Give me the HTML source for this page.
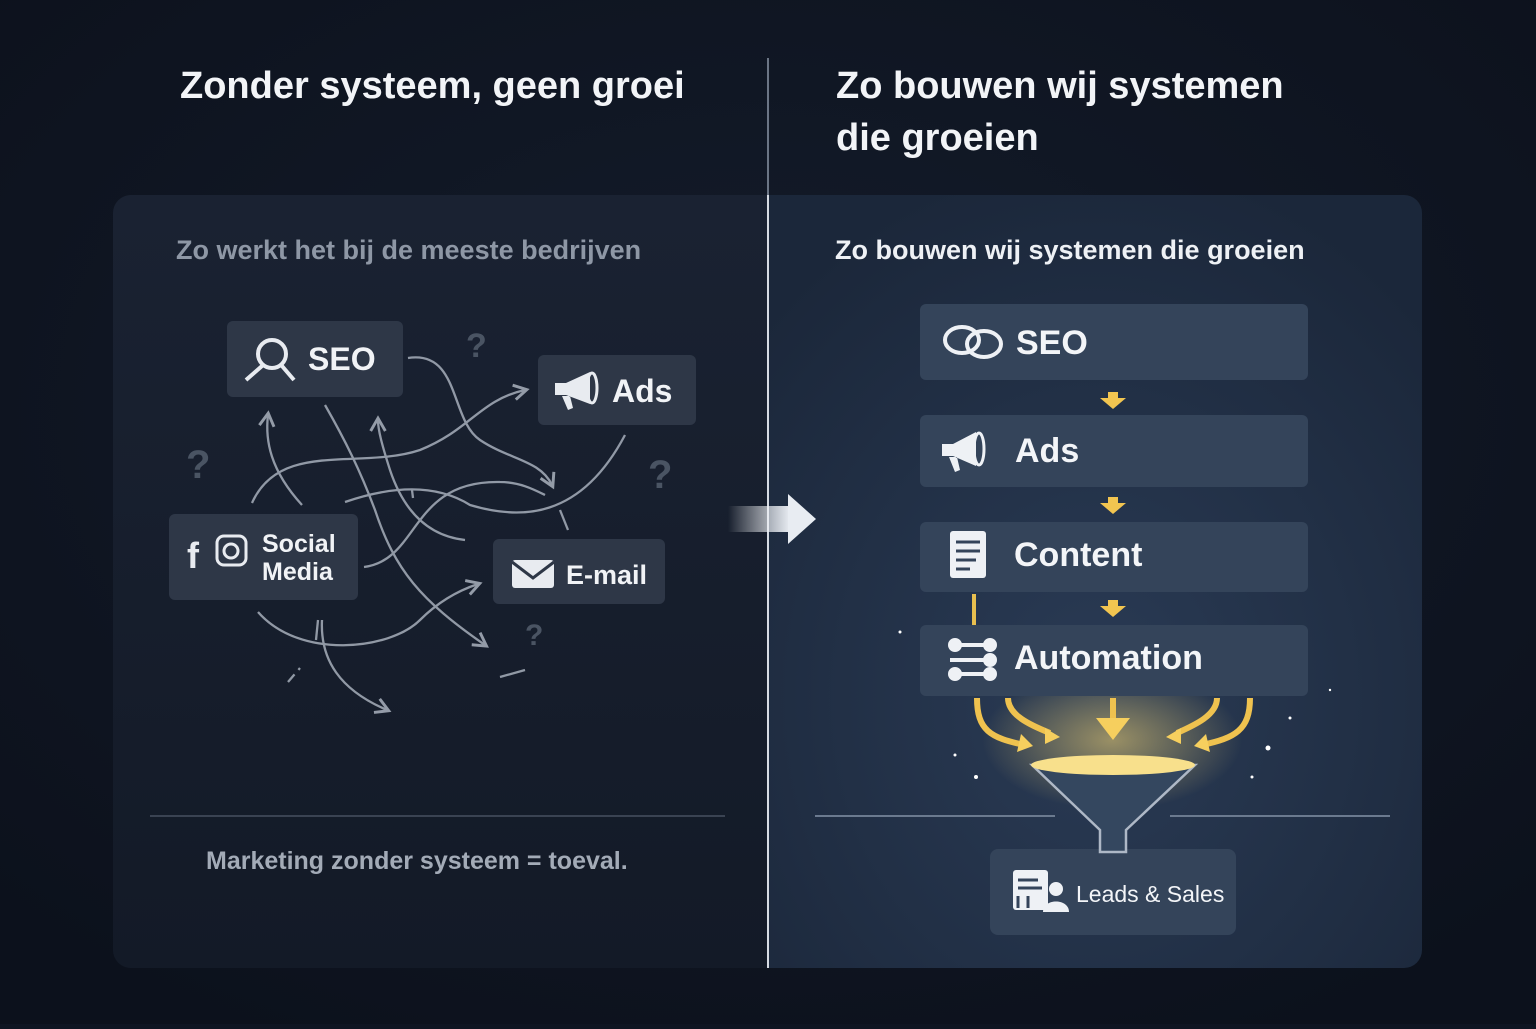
<!DOCTYPE html>
<html><head><meta charset="utf-8"><style>
html,body{margin:0;padding:0;background:#0f1522;}
body{width:1536px;height:1024px;overflow:hidden;font-family:"Liberation Sans","DejaVu Sans",sans-serif;}
</style></head><body>
<svg width="1536" height="1024" viewBox="0 0 1536 1024" xmlns="http://www.w3.org/2000/svg" font-family="Liberation Sans, DejaVu Sans, sans-serif">
<defs>
<radialGradient id="bg" cx="50%" cy="40%" r="70%"><stop offset="0" stop-color="#141c2b"/><stop offset="1" stop-color="#0c111c"/></radialGradient>
<linearGradient id="lp" x1="0" y1="0" x2="0" y2="1"><stop offset="0" stop-color="#1a2232"/><stop offset="1" stop-color="#131a27"/></linearGradient>
<radialGradient id="rp" cx="50%" cy="65%" r="70%"><stop offset="0" stop-color="#2a3b55"/><stop offset="1" stop-color="#1b273a"/></radialGradient>
<radialGradient id="glow" cx="50%" cy="50%" r="50%"><stop offset="0" stop-color="#f7d774" stop-opacity=".55"/><stop offset="1" stop-color="#f7d774" stop-opacity="0"/></radialGradient>
<linearGradient id="arr" x1="0" x2="1"><stop offset="0" stop-color="#fff" stop-opacity="0"/><stop offset="1" stop-color="#e8ecf2"/></linearGradient>
<marker id="ah" viewBox="0 0 10 10" refX="7" refY="5" markerWidth="8" markerHeight="8" orient="auto"><path d="M1 1 L8 5 L1 9" fill="none" stroke="#aab2be" stroke-width="1.6"/></marker>
</defs>
<rect width="1536" height="1024" fill="url(#bg)"/>
<path d="M131 195 H768 V968 H131 A18 18 0 0 1 113 950 V213 A18 18 0 0 1 131 195 Z" fill="url(#lp)"/>
<path d="M768 195 H1404 A18 18 0 0 1 1422 213 V950 A18 18 0 0 1 1404 968 H768 Z" fill="url(#rp)"/>
<line x1="768" y1="58" x2="768" y2="968" stroke="#6b7585" stroke-width="2"/>
<line x1="768" y1="195" x2="768" y2="968" stroke="#d6dbe3" stroke-width="2"/>

<text x="180" y="98" fill="#f2f4f7" font-size="38" font-weight="bold">Zonder systeem, geen groei</text>
<text x="836" y="98" fill="#f2f4f7" font-size="38" font-weight="bold">Zo bouwen wij systemen</text>
<text x="836" y="150" fill="#f2f4f7" font-size="38" font-weight="bold">die groeien</text>
<text x="176" y="259" fill="#8e97a5" font-size="27" font-weight="bold">Zo werkt het bij de meeste bedrijven</text>
<text x="835" y="259" fill="#eef1f5" font-size="27" font-weight="bold">Zo bouwen wij systemen die groeien</text>

<g fill="none" stroke="#a7afbb" stroke-width="2.3" opacity=".85">
<path d="M408 358 C460 350 450 420 480 440 C510 460 540 460 552 485" marker-end="url(#ah)"/>
<path d="M252 503 C280 440 360 470 420 450 C470 430 480 400 525 390" marker-end="url(#ah)"/>
<path d="M302 505 C270 470 265 440 268 415" marker-end="url(#ah)"/>
<path d="M465 540 C420 535 400 500 390 470 C382 445 378 430 378 420" marker-end="url(#ah)"/>
<path d="M364 567 C420 560 410 480 500 482 C520 482 535 490 545 495"/>
<path d="M345 502 C380 490 430 480 470 505 C520 520 580 520 625 435"/>
<path d="M325 405 C345 440 360 470 375 510 C395 570 420 600 485 645" marker-end="url(#ah)"/>
<path d="M258 612 C300 660 390 650 420 620 C440 600 460 590 478 584" marker-end="url(#ah)"/>
<path d="M322 620 C320 660 340 690 387 710" marker-end="url(#ah)"/>
<path d="M316 640 L318 620" />
<path d="M560 510 L568 530"/><path d="M413 498 L412 490"/>
<path d="M288 682 L300 668" stroke-dasharray="10 6"/><path d="M500 677 L525 670"/>
</g>
<g fill="#4a5463" font-size="40" font-weight="bold">
<text x="186" y="478">?</text><text x="466" y="357" font-size="34">?</text><text x="648" y="488">?</text><text x="525" y="645" font-size="30">?</text>
</g>

<g fill="#2e3747">
<rect x="227" y="321" width="176" height="76" rx="6"/>
<rect x="538" y="355" width="158" height="70" rx="6"/>
<rect x="169" y="514" width="189" height="86" rx="6"/>
<rect x="493" y="539" width="172" height="65" rx="6"/>
</g>
<g fill="none" stroke="#e8ebf0" stroke-width="4"><circle cx="272" cy="354" r="14"/><path d="M262 366 L246 380 M282 366 L294 380"/></g>
<text x="308" y="370" fill="#f1f3f6" font-size="32" font-weight="bold">SEO</text>
<path d="M555 383 L566 383 L590 372 L590 404 L566 395 L555 395 Z M562 396 L568 410 L573 408 L570 396 Z" fill="#e8ebf0"/>
<ellipse cx="592" cy="388" rx="5" ry="15" fill="none" stroke="#e8ebf0" stroke-width="3"/>
<text x="612" y="402" fill="#f1f3f6" font-size="32" font-weight="bold">Ads</text>
<text x="187" y="568" fill="#e8ebf0" font-size="36" font-weight="bold">f</text>
<rect x="217" y="536" width="29" height="29" rx="7" fill="none" stroke="#e8ebf0" stroke-width="3"/><circle cx="231" cy="551" r="7" fill="none" stroke="#e8ebf0" stroke-width="3"/>
<text x="262" y="552" fill="#f1f3f6" font-size="25" font-weight="bold">Social</text>
<text x="262" y="580" fill="#f1f3f6" font-size="25" font-weight="bold">Media</text>
<rect x="512" y="560" width="42" height="28" rx="3" fill="#e8ebf0"/><path d="M512 562 L533 578 L554 562" fill="none" stroke="#2e3747" stroke-width="3"/>
<text x="566" y="584" fill="#f1f3f6" font-size="27" font-weight="bold">E-mail</text>

<line x1="150" y1="816" x2="725" y2="816" stroke="#3a4352" stroke-width="2"/>
<text x="206" y="869" fill="#a3abb7" font-size="25" font-weight="bold">Marketing zonder systeem = toeval.</text>

<rect x="728" y="506" width="62" height="26" fill="url(#arr)"/>
<path d="M788 494 L816 519 L788 544 Z" fill="#e8ecf2"/>

<ellipse cx="1112" cy="740" rx="130" ry="70" fill="url(#glow)"/>
<g fill="#fff"><circle cx="1268" cy="748" r="2.5"/><circle cx="976" cy="777" r="2"/><circle cx="900" cy="632" r="1.5"/><circle cx="1252" cy="777" r="1.5"/><circle cx="1290" cy="718" r="1.5"/><circle cx="955" cy="755" r="1.5"/><circle cx="1330" cy="690" r="1.2"/></g>
<g fill="#34445a">
<rect x="920" y="304" width="388" height="76" rx="6"/>
<rect x="920" y="415" width="388" height="72" rx="6"/>
<rect x="920" y="522" width="388" height="70" rx="6"/>
<rect x="920" y="625" width="388" height="71" rx="6"/>
<rect x="990" y="849" width="246" height="86" rx="8"/>
</g>
<g fill="none" stroke="#eef1f5" stroke-width="4"><ellipse cx="962" cy="340" rx="17" ry="13"/><ellipse cx="984" cy="344" rx="17" ry="13"/></g>
<text x="1016" y="354" fill="#f3f5f8" font-size="34" font-weight="bold">SEO</text>
<path d="M942 444 L953 444 L976 432 L976 466 L953 456 L942 456 Z M949 457 L955 472 L960 470 L957 457 Z" fill="#eef1f5"/>
<ellipse cx="979" cy="449" rx="5" ry="16" fill="none" stroke="#eef1f5" stroke-width="3"/>
<text x="1015" y="462" fill="#f3f5f8" font-size="34" font-weight="bold">Ads</text>
<rect x="950" y="531" width="36" height="47" rx="3" fill="#eef1f5"/><g stroke="#34445a" stroke-width="3"><path d="M956 542H980M956 551H980M956 560H976M956 569H970"/></g>
<text x="1014" y="566" fill="#f3f5f8" font-size="34" font-weight="bold">Content</text>
<g stroke="#eef1f5" stroke-width="4" fill="#eef1f5"><path d="M950 645H990M950 660H990M950 674H990" fill="none"/><circle cx="955" cy="645" r="5"/><circle cx="990" cy="645" r="5"/><circle cx="990" cy="660" r="5"/><circle cx="955" cy="674" r="5"/><circle cx="990" cy="674" r="5"/></g>
<text x="1014" y="669" fill="#f3f5f8" font-size="34" font-weight="bold">Automation</text>
<g fill="#f2c550"><path d="M1108 392h10v6h8l-13 11-13-11h8z"/><path d="M1108 497h10v6h8l-13 11-13-11h8z"/><path d="M1108 600h10v6h8l-13 11-13-11h8z"/></g>
<line x1="974" y1="594" x2="974" y2="625" stroke="#e8bf4f" stroke-width="4"/>
<g fill="none" stroke="#efc24f" stroke-width="6"><path d="M977 698 C977 730 990 738 1025 745"/><path d="M1008 698 C1008 715 1030 725 1050 733"/><path d="M1113 698 V720"/><path d="M1217 698 C1217 715 1195 725 1177 733"/><path d="M1250 698 C1250 730 1235 738 1202 745"/></g>
<g fill="#f6cf5e"><path d="M1096 718h34l-17 22z"/><path d="M1033 746l-12-12-4 18z"/><path d="M1060 737l-15-9 0 16z"/><path d="M1166 737l15-9 0 16z"/><path d="M1194 746l12-12 4 18z"/></g>
<path d="M1032 765 L1100 830 L1100 852 L1126 852 L1126 830 L1195 765 Z" fill="#34475f" stroke="#aeb8c6" stroke-width="2.5"/>
<ellipse cx="1113" cy="765" rx="82" ry="10" fill="#f8e08c"/>
<line x1="815" y1="816" x2="1055" y2="816" stroke="#6b7a8f" stroke-width="2"/>
<line x1="1170" y1="816" x2="1390" y2="816" stroke="#6b7a8f" stroke-width="2"/>
<rect x="1013" y="870" width="35" height="40" rx="3" fill="#eef1f5"/><g stroke="#34445a" stroke-width="3"><path d="M1018 880h20M1018 888h24M1018 896v12M1028 896v12"/></g>
<circle cx="1056" cy="889" r="7" fill="#eef1f5"/><path d="M1043 912 C1043 898 1069 898 1069 912Z" fill="#eef1f5"/>
<text x="1076" y="902" fill="#f3f5f8" font-size="23">Leads &amp; Sales</text>
</svg>
</body></html>
